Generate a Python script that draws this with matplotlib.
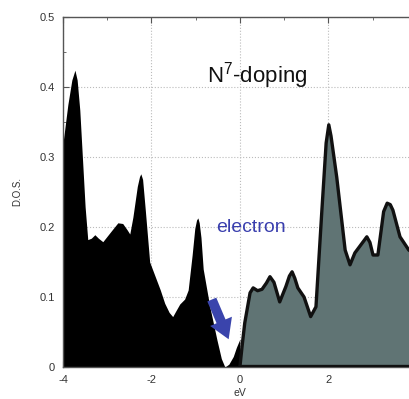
import matplotlib
matplotlib.use("Agg")
import matplotlib.pyplot as plt
from matplotlib.ticker import MultipleLocator

plt.rcParams['font.family'] = ['Liberation Sans', 'DejaVu Sans']
plt.rcParams['mathtext.fontset'] = 'custom'
plt.rcParams['mathtext.rm'] = 'Liberation Sans'
plt.rcParams['mathtext.it'] = 'Liberation Sans:italic'

# Occupied states (below Fermi level)
occ_x = [-4.0, -3.89, -3.8, -3.73, -3.68, -3.62, -3.5, -3.44, -3.36, -3.28, -3.2, -3.1,
         -2.9, -2.76, -2.65, -2.55, -2.49, -2.42, -2.32, -2.27, -2.24, -2.2, -2.14, -2.04,
         -1.92, -1.8, -1.7, -1.6, -1.52, -1.45, -1.36, -1.25, -1.17, -1.08, -1.02, -0.98,
         -0.95, -0.92, -0.88, -0.83, -0.68, -0.52, -0.42, -0.34, -0.25, -0.15, -0.08, 0.0]
occ_y = [0.32, 0.375, 0.41, 0.424, 0.41, 0.367, 0.229, 0.182, 0.184, 0.189, 0.184, 0.179,
         0.195, 0.206, 0.205, 0.196, 0.19, 0.214, 0.258, 0.272, 0.276, 0.268, 0.225, 0.15,
         0.13, 0.11, 0.091, 0.078, 0.072, 0.08, 0.09, 0.097, 0.11, 0.16, 0.198, 0.21,
         0.213, 0.206, 0.185, 0.14, 0.086, 0.039, 0.012, 0.0, 0.004, 0.015, 0.028, 0.04]

# Unoccupied states (above Fermi level)
unocc_x = [0.0, 0.05, 0.11, 0.23, 0.3, 0.4, 0.5, 0.6, 0.68, 0.77, 0.9, 1.04, 1.12, 1.18,
           1.24, 1.31, 1.45, 1.6, 1.72, 1.85, 1.95, 2.01, 2.06, 2.19, 2.38, 2.49, 2.6,
           2.8, 2.87, 2.94, 3.01, 3.12, 3.25, 3.33, 3.4, 3.46, 3.62, 3.82, 4.0]
unocc_y = [0.0, 0.03, 0.063, 0.106, 0.113, 0.109, 0.111, 0.12, 0.129, 0.121, 0.093, 0.115,
           0.13, 0.136, 0.127, 0.113, 0.1, 0.072, 0.086, 0.22, 0.32, 0.346, 0.33, 0.271,
           0.167, 0.146, 0.163, 0.18, 0.186, 0.178, 0.16, 0.16, 0.222, 0.234, 0.232, 0.224,
           0.186, 0.167, 0.16]

xticks = [-4, -2, 0, 2]
xticklabels = ['-4', '-2', '0', '2']
yticks = [0, 0.1, 0.2, 0.3, 0.4, 0.5]
yticklabels = ['0', '0.1', '0.2', '0.3', '0.4', '0.5']

fig = plt.figure(figsize=(4.09, 3.99), dpi=100)
ax = fig.add_axes([63/409, 32/399, 353.8/409, 350/399])

ax.fill_between(occ_x, 0, occ_y, color='black', lw=0, zorder=2)
ax.fill_between(unocc_x, 0, unocc_y, facecolor='#607474', edgecolor='none', zorder=3)
ax.plot(unocc_x, unocc_y, color='#111111', lw=2.4, zorder=4, solid_joinstyle='round')
ax.plot([0, 4], [0.002, 0.002], color='#111111', lw=2.4, zorder=4)

ax.set_xlim(-4, 4)
ax.set_ylim(0, 0.5)
ax.set_xticks(xticks)
ax.set_xticklabels(xticklabels)
ax.set_yticks(yticks)
ax.set_yticklabels(yticklabels)
ax.xaxis.set_minor_locator(MultipleLocator(1))
ax.yaxis.set_minor_locator(MultipleLocator(0.05))
ax.tick_params(which='both', direction='in', top=True, right=False, colors='#555555',
               labelcolor='#333333', labelsize=8)
ax.tick_params(axis='x', which='major', pad=6)
ax.tick_params(axis='y', which='major', pad=6)
ax.tick_params(which='major', length=4)
ax.tick_params(which='minor', length=2.5)
for s in ['left', 'top', 'bottom']:
    ax.spines[s].set_color('#555555')
    ax.spines[s].set_linewidth(1.0)
ax.spines['right'].set_visible(False)

ax.grid(True, which='major', color='#bbbbbb', linestyle=':', linewidth=0.8, zorder=0)
ax.set_axisbelow(True)

ax.set_xlabel('eV', fontsize=7.5, color='#333333', labelpad=2)
ax.set_ylabel('D.O.S.', fontsize=7, color='#333333', labelpad=12)

ax.text(0.38, 0.417, r'N$^{7}$-doping', fontsize=16, ha='center', va='center', color='#111111')
ax.text(0.25, 0.199, 'electron', fontsize=14, ha='center', va='center', color='#3a3fae')
ax.annotate('', xy=(-0.23, 0.036), xytext=(-0.66, 0.1),
            arrowprops=dict(arrowstyle='simple,head_width=1.7,head_length=1.4,tail_width=0.7',
                            color='#3a44ac', lw=0), zorder=6)

fig.savefig('out.png', dpi=100)
